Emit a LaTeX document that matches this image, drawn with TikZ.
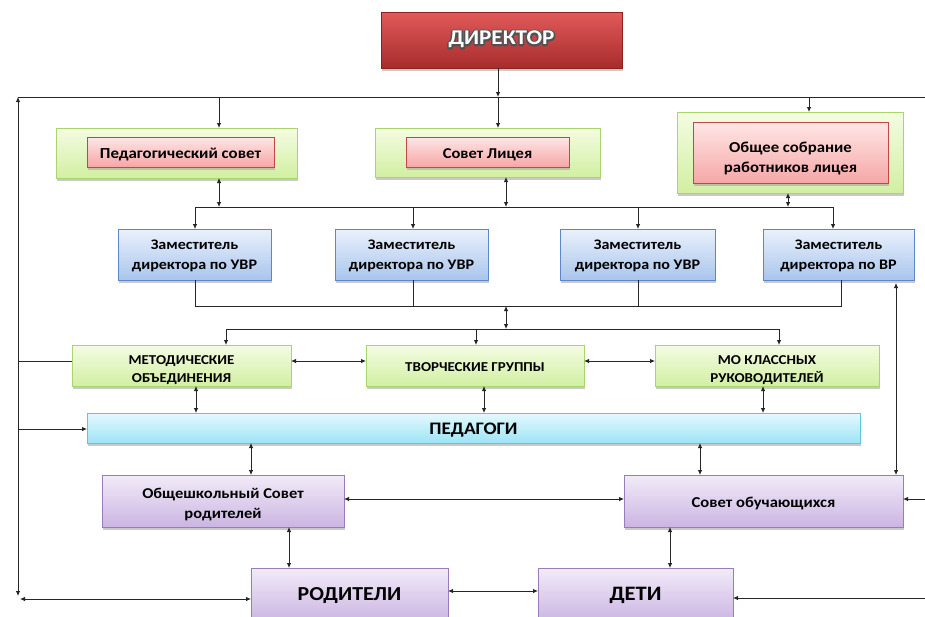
\documentclass[tikz,border=0pt]{standalone}
\usepackage{fontspec}
\setmainfont{Carlito}[FakeStretch=1.1]
\usetikzlibrary{arrows.meta,shadows}
\definecolor{dirtop}{HTML}{E25A5A}
\definecolor{dirbot}{HTML}{A72C2C}
\definecolor{dirline}{HTML}{8E2020}
\definecolor{grntop}{HTML}{F4FCE3}
\definecolor{grnbot}{HTML}{D2EFA2}
\definecolor{grnline}{HTML}{A9D46E}
\definecolor{pnktop}{HTML}{FFE6E6}
\definecolor{pnkbot}{HTML}{F6A6A6}
\definecolor{pnkline}{HTML}{C24848}
\definecolor{blutop}{HTML}{EAF1FC}
\definecolor{blubot}{HTML}{A9C5EC}
\definecolor{bluline}{HTML}{5C88C9}
\definecolor{cyntop}{HTML}{E4F9FE}
\definecolor{cynbot}{HTML}{9DE4F5}
\definecolor{cynline}{HTML}{5EC6DE}
\definecolor{prptop}{HTML}{F2EBF9}
\definecolor{prpbot}{HTML}{CBB5E2}
\definecolor{prpline}{HTML}{9B7CBB}
\tikzset{
  basebox/.style={rectangle, inner sep=0pt, outer sep=0pt, align=center, text=black,
    drop shadow={shadow xshift=1pt, shadow yshift=-2.5pt, fill=black!35, opacity=0.6}},
  dirbox/.style={basebox, top color=dirtop, bottom color=dirbot, draw=dirline, line width=0.6pt},
  grnbox/.style={basebox, top color=grntop, bottom color=grnbot, draw=grnline, line width=0.6pt},
  pnkbox/.style={basebox, top color=pnktop, bottom color=pnkbot, draw=pnkline, line width=0.6pt},
  blubox/.style={basebox, top color=blutop, bottom color=blubot, draw=bluline, line width=0.6pt},
  cynbox/.style={basebox, top color=cyntop, bottom color=cynbot, draw=cynline, line width=0.6pt},
  prpbox/.style={basebox, top color=prptop, bottom color=prpbot, draw=prpline, line width=0.6pt},
  conn/.style={draw=black!85, line width=0.8pt},
  tip/.style={-{Latex[length=5pt,width=4.5pt]}},
  twotip/.style={{Latex[length=5pt,width=4.5pt]}-{Latex[length=5pt,width=4.5pt]}},
}
\newcommand{\fs}[1]{\fontsize{#1}{20}\selectfont\bfseries}
\newcommand{\dn}[2]{\raisebox{-#1}[\height][\depth]{\begin{tabular}{@{}c@{}}#2\end{tabular}}}
\newcommand{\outlinedtext}[1]{\rlap{\special{pdf:literal direct 1 Tr 3.2 w 0.32 G 1 j}#1\special{pdf:literal direct 0 Tr}}#1}
\begin{document}
\begin{tikzpicture}[x=1pt,y=-1pt]
\clip (0,0) rectangle (925,616);
\fill[white] (0,0) rectangle (925,616);

% Director
\node[dirbox, minimum width=241pt, minimum height=56pt, text=white, text depth=0pt, font=\fs{21}] (dir) at (501.5,40) {\raisebox{2pt}[\height][\depth]{\outlinedtext{ДИРЕКТОР}}};

% top level
\node[grnbox, minimum width=241pt, minimum height=50pt] (pedo) at (176.5,153) {};
\node[pnkbox, minimum width=187pt, minimum height=30pt, font=\fs{15.3}] (ped) at (180.5,152) {\dn{2pt}{Педагогический совет}};
\node[grnbox, minimum width=225pt, minimum height=49pt] (sovo) at (487.5,152.5) {};
\node[pnkbox, minimum width=163pt, minimum height=30pt, font=\fs{15}] (sov) at (487.5,152) {\dn{2pt}{Совет Лицея}};
\node[grnbox, minimum width=226pt, minimum height=81pt] (obso) at (790,152.5) {};
\node[pnkbox, minimum width=195pt, minimum height=61pt, font=\fs{15.2}] (obs) at (790.5,153) {\dn{5pt}{Общее собрание\\работников лицея}};

% deputies
\tikzset{dep/.style={blubox, minimum height=51pt, font=\fs{14.6}}}
\node[dep, minimum width=153pt] (d1) at (194.5,254.5) {\dn{1pt}{Заместитель\\директора по УВР}};
\node[dep, minimum width=153pt] (d2) at (411.5,254.5) {\dn{1pt}{Заместитель\\директора по УВР}};
\node[dep, minimum width=155pt] (d3) at (637.5,254.5) {\dn{1pt}{Заместитель\\директора по УВР}};
\node[dep, minimum width=151pt] (d4) at (838.5,254.5) {\dn{1pt}{Заместитель\\директора по ВР}};

% row
\tikzset{rowb/.style={grnbox, minimum height=41pt, font=\fontsize{13.6}{18}\selectfont\bfseries}}
\node[rowb, minimum width=219pt] (r1) at (181.5,365.5) {\dn{4pt}{МЕТОДИЧЕСКИЕ\\ОБЪЕДИНЕНИЯ}};
\node[rowb, minimum width=218pt] (r2) at (475,365.5) {\dn{2pt}{ТВОРЧЕСКИЕ ГРУППЫ}};
\node[rowb, minimum width=224pt] (r3) at (767,365.5) {\dn{4pt}{МО КЛАССНЫХ\\РУКОВОДИТЕЛЕЙ}};

% pedagogi
\node[cynbox, minimum width=773pt, minimum height=30pt, font=\fs{17.6}] (peda) at (473.5,428) {\dn{2pt}{ПЕДАГОГИ}};

% councils
\node[prpbox, minimum width=242pt, minimum height=52pt, font=\fs{15}] (rods) at (223,501) {\dn{3pt}{Общешкольный Совет\\родителей}};
\node[prpbox, minimum width=279pt, minimum height=52pt, font=\fs{15.1}] (obuch) at (763.5,501) {\dn{2pt}{Совет обучающихся}};

% bottom
\node[prpbox, minimum width=197pt, minimum height=54pt, font=\fs{19.8}] (rod) at (349.5,595) {\dn{1.5pt}{РОДИТЕЛИ}};
\node[prpbox, minimum width=195pt, minimum height=54pt, font=\fs{20.5}] (det) at (635.5,595) {\dn{1.5pt}{ДЕТИ}};

% coordinates
\coordinate (tl) at (18,97);
\coordinate (tr) at (925,97);
\coordinate (bl) at (18,596);
\coordinate (bl2) at (20,599);
\coordinate (xa) at (219,97);
\coordinate (xb) at (498,97);
\coordinate (xc) at (809,97);
\coordinate (bus1l) at (195,207);
\coordinate (bus1r) at (833,207);
\coordinate (b1a) at (219,207);
\coordinate (b1b) at (506,207);
\coordinate (b1c) at (788,207);
\coordinate (b1d) at (413,207);
\coordinate (b1e) at (638,207);
\coordinate (bus2l) at (195,306);
\coordinate (bus2r) at (841,306);
\coordinate (b2a) at (413,306);
\coordinate (b2b) at (638,306);
\coordinate (b2m) at (506,306);
\coordinate (b3m) at (506,329);
\coordinate (bus3l) at (226,329);
\coordinate (bus3r) at (779,329);
\coordinate (b3b) at (476,329);
\coordinate (lm) at (18,361);
\coordinate (lp) at (18,429);
\coordinate (rv) at (896,283);
\coordinate (ro) at (925,499);
\coordinate (rd) at (925,598);
\coordinate (ym) at (0,361);
\coordinate (yc) at (0,499);
\coordinate (yb) at (0,591);
\coordinate (v1) at (196,0);
\coordinate (v2) at (484,0);
\coordinate (v3) at (763,0);
\coordinate (v4) at (251,0);
\coordinate (v5) at (700,0);
\coordinate (v6) at (289,0);
\coordinate (v7) at (670,0);

% top bar & left line
\draw[conn] (tr) -- (tl);
\draw[conn, twotip] (tl) -- (bl);
\draw[conn, twotip] (bl2) -- (rod.west |- bl2);
\draw[conn, tip] (dir.south -| xb) -- (xb);
\draw[conn, tip] (xb) -- (sovo.north -| xb);
\draw[conn, tip] (xa) -- (pedo.north -| xa);
\draw[conn, tip] (xc) -- (obso.north -| xc);

% bus 1
\draw[conn] (bus1l) -- (bus1r);
\draw[conn, twotip] (pedo.south -| b1a) -- (b1a);
\draw[conn, twotip] (sovo.south -| b1b) -- (b1b);
\draw[conn, twotip] (obso.south -| b1c) -- (b1c);
\draw[conn, tip] (bus1l) -- (d1.north -| bus1l);
\draw[conn, tip] (b1d) -- (d2.north -| b1d);
\draw[conn, tip] (b1e) -- (d3.north -| b1e);
\draw[conn, tip] (bus1r) -- (d4.north -| bus1r);

% bus 2
\draw[conn] (d1.south -| bus2l) -- (bus2l) -- (bus2r) -- (d4.south -| bus2r);
\draw[conn] (d2.south -| b2a) -- (b2a);
\draw[conn] (d3.south -| b2b) -- (b2b);
\draw[conn, twotip] (b2m) -- (b3m);

% bus 3
\draw[conn] (bus3l) -- (bus3r);
\draw[conn, tip] (bus3l) -- (r1.north -| bus3l);
\draw[conn, tip] (b3b) -- (r2.north -| b3b);
\draw[conn, tip] (bus3r) -- (r3.north -| bus3r);

% row links
\draw[conn, twotip] (r1.east |- ym) -- (r2.west |- ym);
\draw[conn, twotip] (r2.east |- ym) -- (r3.west |- ym);
\draw[conn] (lm) -- (r1.west |- lm);
\draw[conn, tip] (lp) -- (peda.west |- lp);
\draw[conn, twotip] (r1.south -| v1) -- (peda.north -| v1);
\draw[conn, twotip] (r2.south -| v2) -- (peda.north -| v2);
\draw[conn, twotip] (r3.south -| v3) -- (peda.north -| v3);

% right vertical
\draw[conn, twotip] (rv) -- (obuch.north -| rv);
\draw[conn, tip] (ro) -- (obuch.east |- ro);
\draw[conn, tip] (rd) -- (det.east |- rd);

% lower links
\draw[conn, twotip] (peda.south -| v4) -- (rods.north -| v4);
\draw[conn, twotip] (peda.south -| v5) -- (obuch.north -| v5);
\draw[conn, twotip] (rods.east |- yc) -- (obuch.west |- yc);
\draw[conn, twotip] (rods.south -| v6) -- (rod.north -| v6);
\draw[conn, twotip] (obuch.south -| v7) -- (det.north -| v7);
\draw[conn, twotip] (rod.east |- yb) -- (det.west |- yb);
\end{tikzpicture}
\end{document}
